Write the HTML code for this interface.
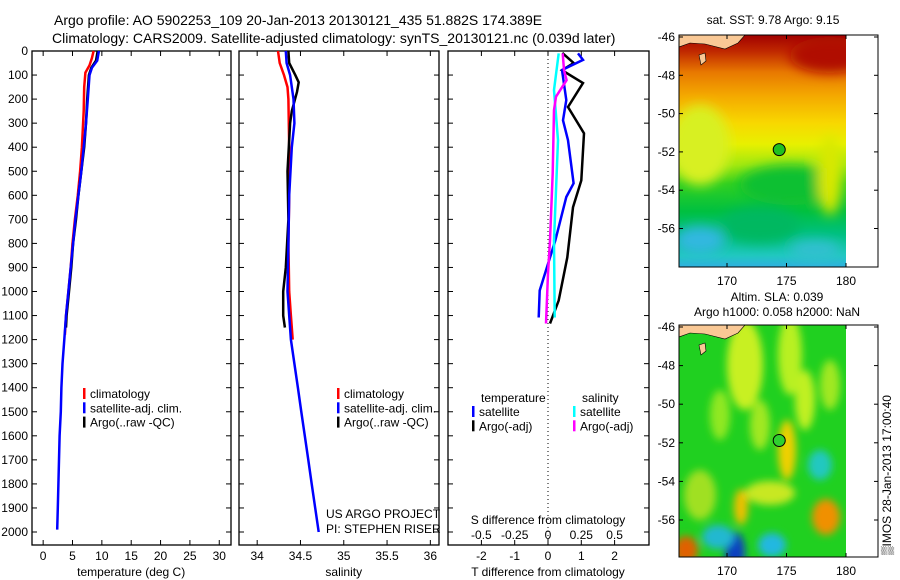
<!DOCTYPE html>
<html><head><meta charset="utf-8"><style>
body{margin:0;background:#fff;}
svg{display:block;font-family:"Liberation Sans",sans-serif;}
</style></head><body>
<svg id="fig" width="900" height="580" viewBox="0 0 900 580" xmlns="http://www.w3.org/2000/svg">
<defs>
<filter id="bl" x="-50%" y="-50%" width="200%" height="200%"><feGaussianBlur stdDeviation="6"/></filter>
<filter id="bl2" x="-50%" y="-50%" width="200%" height="200%"><feGaussianBlur stdDeviation="4"/></filter>
<linearGradient id="sstg" x1="0" y1="0" x2="0" y2="1">
<stop offset="0" stop-color="#a00000"/><stop offset="0.07" stop-color="#c02800"/>
<stop offset="0.16" stop-color="#e87800"/><stop offset="0.26" stop-color="#f4a800"/>
<stop offset="0.38" stop-color="#f8d800"/><stop offset="0.47" stop-color="#e8f000"/>
<stop offset="0.56" stop-color="#a0e810"/><stop offset="0.64" stop-color="#30d020"/>
<stop offset="0.76" stop-color="#00c040"/><stop offset="0.86" stop-color="#00c080"/>
<stop offset="0.95" stop-color="#20c8c0"/><stop offset="1" stop-color="#30b0e0"/>
</linearGradient>
<clipPath id="c1"><rect x="679" y="35" width="167" height="232"/></clipPath>
<clipPath id="c2"><rect x="679" y="325" width="167" height="232"/></clipPath>
</defs>
<g id="titles" font-size="14" fill="#000">
<text x="54" y="25">Argo profile: AO 5902253_109 20-Jan-2013 20130121_435 51.882S 174.389E</text>
<text x="52" y="43">Climatology: CARS2009. Satellite-adjusted climatology: synTS_20130121.nc (0.039d later)</text>
</g>
<g id="p1"></g>
<g id="p2"></g>
<g id="p3"></g>
<g id="m1"></g>
<g id="m2"></g>
<text font-size="12" transform="translate(891,555) rotate(-90)">▒IMOS 28-Jan-2013 17:00:40</text>
</svg>
<script>
// ---- data ----
const tClimD=[0,30,60,90,150,250,400,500,600,700,800,900,1000,1100,1180];
const tClimV=[8.6,8.3,7.9,7.2,7.0,6.9,6.6,6.3,5.9,5.4,5.0,4.7,4.3,3.9,3.7];
const tArgoD=[0,40,70,100,200,300,400,500,600,700,800,900,1000,1100,1150];
const tArgoV=[9.3,9.0,8.2,7.8,7.5,7.3,7.0,6.5,6.0,5.6,5.1,4.8,4.4,4.0,3.9];
const tSatD=[0,40,70,100,200,300,400,500,600,700,800,900,1000,1100,1200,1300,1400,1500,1600,1700,1800,1900,1990];
const tSatV=[9.5,9.2,8.3,7.9,7.6,7.3,6.9,6.5,6.0,5.5,5.1,4.7,4.3,3.9,3.6,3.3,3.1,3.0,2.8,2.7,2.6,2.5,2.4];
const sClimD=[0,50,100,150,200,400,600,800,1000,1100,1200];
const sClimV=[34.24,34.26,34.31,34.35,34.36,34.37,34.37,34.36,34.37,34.39,34.41];
const sArgoD=[0,50,100,130,170,250,300,500,700,900,1000,1100,1150];
const sArgoV=[34.36,34.37,34.44,34.48,34.46,34.40,34.38,34.35,34.36,34.33,34.30,34.30,34.32];
const sSatD=[0,50,100,200,300,400,600,800,1000,1200,1300,1400,1500,1600,1700,1800,1900,2000];
const sSatV=[34.33,34.34,34.38,34.42,34.43,34.40,34.37,34.36,34.35,34.39,34.43,34.47,34.51,34.55,34.59,34.63,34.67,34.71];
const dTargoD=[8,50,80,133,233,342,538,650,858,1037,1133];
const dTargoV=[0.43,0.77,0.42,1.05,0.6,1.08,1.0,0.75,0.58,0.32,0.06];
const dTsatD=[10,37,79,204,288,371,550,607,788,996,1108];
const dTsatV=[0.9,1.05,0.42,0.55,0.45,0.6,0.77,0.55,0.22,-0.25,-0.28];
const dSargoD=[10,79,121,190,246,508,788,925,1133];
const dSargoV=[0.11,0.12,0.14,0.06,0.045,0.035,0.015,0.0,-0.015];
const dSsatD=[10,162,371,579,788,1108];
const dSsatV=[0.08,0.045,0.075,0.06,0.045,0.05];
const depthTicks=[0,100,200,300,400,500,600,700,800,900,1000,1100,1200,1300,1400,1500,1600,1700,1800,1900,2000];
const tTicks=[0,5,10,15,20,25,30];
const sTicks=[34,34.5,35,35.5,36];
const sTickLbl=["34","34.5","35","35.5","36"];
const dTTicks=[-2,-1,0,1,2];
const dSTicks=[-0.5,-0.25,0,0.25,0.5];
const dSTickLbl=["-0.5","-0.25","0","0.25","0.5"];
const latTicks=[-46,-48,-50,-52,-54,-56];
const lonTicks=[170,175,180];
// ---- scales ----
const Y0=51,Y1=545,D0=0,D1=2054;
const yD=d=>Y0+(d-D0)*(Y1-Y0)/(D1-D0);
const xT=t=>32+(t+1.9)*(231-32)/(32.0+1.9);
const xS=s=>239+(s-33.79)*(439-239)/(36.10-33.79);
const xDT=t=>548+t*33.3;
const xDS=s=>548+s*133.2;
const NS="http://www.w3.org/2000/svg";
function mk(tag,attrs,parent){const e=document.createElementNS(NS,tag);for(const k in attrs)e.setAttribute(k,attrs[k]);parent.appendChild(e);return e;}
function line(p,ds,vs,xf,color,w,name){
  const pts=ds.map((d,i)=>xf(vs[i]).toFixed(1)+","+yD(d).toFixed(1)).join(" ");
  const e=mk("polyline",{points:pts,fill:"none",stroke:color,"stroke-width":w},p);
  
  
}
function box(p,x0,x1){
  const r=mk("rect",{x:x0,y:Y0,width:x1-x0,height:Y1-Y0,fill:"none",stroke:"#000","stroke-width":1.3},p);
  
  
  depthTicks.forEach(d=>{const y=yD(d);mk("line",{x1:x0,x2:x0+5,y1:y,y2:y,stroke:"#000"},p);mk("line",{x1:x1,x2:x1-5,y1:y,y2:y,stroke:"#000"},p);});
}
function xticks(p,ticks,lbls,xf,title){
  ticks.forEach((t,i)=>{const x=xf(t);mk("line",{x1:x,x2:x,y1:Y1,y2:Y1-5,stroke:"#000"},p);mk("line",{x1:x,x2:x,y1:Y0,y2:Y0+5,stroke:"#000"},p);
    const tx=mk("text",{x:x,y:560,"font-size":12,"text-anchor":"middle"},p);tx.textContent=lbls[i];
    
    });
  const tt=mk("text",{x:(xf(ticks[0])+xf(ticks[ticks.length-1]))/2,y:576,"font-size":12,"text-anchor":"middle"},p);tt.textContent=title;
  
  
}
function legend(p,x,y,items){
  items.forEach((it,i)=>{const yy=y+i*14.3;
    mk("rect",{x:x,y:yy-10,width:2.5,height:11,fill:it[1]},p);
    const t=mk("text",{x:x+7,y:yy,"font-size":12},p);t.textContent=it[0];
    
    });
}
// panel 1
const p1=document.getElementById('p1');
box(p1,32,231);
depthTicks.forEach(d=>{const t=mk("text",{x:28,y:yD(d)+4,"font-size":12,"text-anchor":"end"},p1);t.textContent=d;
  
  });
xticks(p1,tTicks,tTicks.map(String),xT,"temperature (deg C)");
line(p1,tClimD,tClimV,xT,"#f00",2.5,"temp-climatology-line");
line(p1,tArgoD,tArgoV,xT,"#000",2.5,"temp-argo-line");
line(p1,tSatD,tSatV,xT,"#00f",2.5,"temp-satellite-line");
legend(p1,83,398,[["climatology","#f00"],["satellite-adj. clim.","#00f"],["Argo(..raw -QC)","#000"]]);
// panel 2
const p2=document.getElementById('p2');
box(p2,239,439);
xticks(p2,sTicks,sTickLbl,xS,"salinity");
line(p2,sClimD,sClimV,xS,"#f00",2.5,"sal-climatology-line");
line(p2,sArgoD,sArgoV,xS,"#000",2.5,"sal-argo-line");
line(p2,sSatD,sSatV,xS,"#00f",2.5,"sal-satellite-line");
legend(p2,337,398,[["climatology","#f00"],["satellite-adj. clim.","#00f"],["Argo(..raw -QC)","#000"]]);
[["US ARGO PROJECT",518],["PI: STEPHEN RISER",533]].forEach(a=>{const t=mk("text",{x:326,y:a[1],"font-size":12},p2);t.textContent=a[0];
  
  });
// panel 3
const p3=document.getElementById('p3');
box(p3,448,649);
mk("line",{x1:548,x2:548,y1:Y0,y2:Y1,stroke:"#000","stroke-dasharray":"1,3"},p3);
xticks(p3,dTTicks,dTTicks.map(String),xDT,"T difference from climatology");
dSTicks.forEach((s,i)=>{const t=mk("text",{x:xDS(s),y:539,"font-size":12,"text-anchor":"middle"},p3);t.textContent=dSTickLbl[i];
  
  });
{const t=mk("text",{x:548,y:524,"font-size":12,"text-anchor":"middle"},p3);t.textContent="S difference from climatology";
 
 }
line(p3,dTargoD,dTargoV,xDT,"#000",2.5,"dT-argo-line");
line(p3,dTsatD,dTsatV,xDT,"#00f",2.5,"dT-satellite-line");
line(p3,dSsatD,dSsatV,xDS,"#0ff",2.5,"dS-satellite-line");
line(p3,dSargoD,dSargoV,xDS,"#f0f",2.5,"dS-argo-line");
{const t=mk("text",{x:481,y:402,"font-size":12},p3);t.textContent="temperature";
 
 
 const t2=mk("text",{x:582,y:402,"font-size":12},p3);t2.textContent="salinity";
 
 }
legend(p3,472,416,[["satellite","#00f"],["Argo(-adj)","#000"]]);
legend(p3,573,416,[["satellite","#0ff"],["Argo(-adj)","#f0f"]]);
// maps
const lonX=l=>727+(l-170)*11.9;
function map(g,top,latStep,title1,title2,clip,isSST){
  const latY=l=>top+2+(-46-l)*latStep;
  const bg=mk("g",{"clip-path":"url(#"+clip+")"},g);
  if(isSST){
    mk("rect",{x:679,y:top,width:167,height:232,fill:"url(#sstg)"},bg);
    const blobs=[[830,top+20,40,18,"#b01000"],[700,top+110,30,40,"#d8f020"],[790,top+150,50,20,"#10c030"],
      [700,top+205,25,14,"#30b8e0"],[815,top+215,25,10,"#30c0d0"],[830,top+140,12,40,"#d8e800"],[760,top+190,40,18,"#00b860"]];
    const bgb=mk("g",{filter:"url(#bl)"},bg);
    blobs.forEach(b=>mk("ellipse",{cx:b[0],cy:b[1],rx:b[2],ry:b[3],fill:b[4]},bgb));
  } else {
    mk("rect",{x:679,y:top,width:167,height:232,fill:"#20d020"},bg);
    const blobs=[[745,top+40,18,45,"#c8f020"],[790,top+30,12,40,"#b8f020"],[805,top+75,10,30,"#c0f020"],
      [720,top+90,10,25,"#90e820"],[760,top+100,10,25,"#a0e820"],[830,top+60,10,25,"#a0e820"],
      [787,top+125,9,30,"#f0d000"],[820,top+140,12,15,"#20c8c0"],[826,top+192,14,18,"#f09000"],
      [741,top+182,7,18,"#f0c000"],[735,top+227,10,20,"#1040c0"],[718,top+212,16,12,"#20b8d0"],
      [772,top+220,14,12,"#20b8e0"],[686,top+225,12,14,"#e06000"],[770,top+168,25,12,"#c8e820"],[700,top+170,16,25,"#a0e020"]];
    const bgb=mk("g",{filter:"url(#bl2)"},bg);
    blobs.forEach(b=>mk("ellipse",{cx:b[0],cy:b[1],rx:b[2],ry:b[3],fill:b[4]},bgb));
  }
  mk("path",{d:`M679 ${top} L745 ${top} L738 ${top+8} L725 ${top+14} L705 ${top+9} L690 ${top+8} L679 ${top+12}Z`,fill:"#f9c895",stroke:"#000","stroke-width":0.6},bg);
  mk("path",{d:`M699 ${top+20} L705 ${top+18} L706 ${top+26} L701 ${top+30}Z`,fill:"#f9c895",stroke:"#000","stroke-width":0.6},bg);
  mk("rect",{x:846,y:top,width:32,height:232,fill:"#fff"},g);
  const fr=mk("rect",{x:679,y:top,width:199,height:232,fill:"none",stroke:"#000"},g);
  
  
  latTicks.forEach(l=>{const y=latY(l);mk("line",{x1:679,x2:683,y1:y,y2:y,stroke:"#000"},g);mk("line",{x1:878,x2:874,y1:y,y2:y,stroke:"#000"},g);
    const t=mk("text",{x:675,y:y+4,"font-size":12,"text-anchor":"end"},g);t.textContent=l;
    
    });
  lonTicks.forEach(l=>{const x=lonX(l);mk("line",{x1:x,x2:x,y1:top,y2:top+4,stroke:"#000"},g);mk("line",{x1:x,x2:x,y1:top+232,y2:top+228,stroke:"#000"},g);
    const t=mk("text",{x:x,y:top+250,"font-size":12,"text-anchor":"middle"},g);t.textContent=l;
    
    });
  const c=mk("circle",{cx:lonX(174.389),cy:latY(-51.882),r:6,fill:isSST?"#20c020":"#30d030",stroke:"#000"},g);
  
  
  if(title2){
    const t=mk("text",{x:777,y:top-24,"font-size":12,"text-anchor":"middle"},g);t.textContent=title1;
    
    
    const t2=mk("text",{x:777,y:top-9,"font-size":12,"text-anchor":"middle"},g);t2.textContent=title2;
    
    
  } else {
    const t=mk("text",{x:773,y:top-11,"font-size":12,"text-anchor":"middle"},g);t.textContent=title1;
    
    
  }
}
map(document.getElementById('m1'),35,19.15,"sat. SST: 9.78 Argo: 9.15",null,"c1",true);
map(document.getElementById('m2'),325,19.3,"Altim. SLA: 0.039","Argo h1000: 0.058 h2000: NaN","c2",false);
</script>
</body></html>
